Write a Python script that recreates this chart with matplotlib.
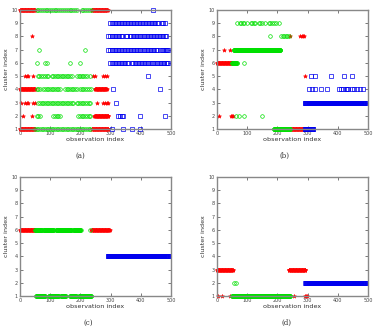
import matplotlib
matplotlib.use("Agg")
import matplotlib.pyplot as plt
import numpy as np

# cluster index -> observation indices; (start, stop) tuples are consecutive runs
a_red = {10: [(0, 50), (237, 290)], 8: [39],
         5: [17, 22, 28, 44, 243, 248, 276, 281, 287],
         4: [(0, 50), (248, 287)],
         3: [2, 17, 22, 28, 44, 50, 254, 276, 281, 287, 292],
         2: [11, 39, (246, 292)],
         1: [(0, 50), (237, 292)]}
a_green = {10: [55, 60, 65, 72, 78, 85, 90, 97, 103, 108, 115, 120, 127, 133, 140, 147,
                152, 158, 165, 170, 176, 182, 188, 204, 210, 216, 222, 228, 235],
           7: [63, 215],
           6: [55, 83, 89, 166, 199],
           5: [58, 64, 70, 77, 82, 88, 94, 105, 110, 116, 121, 127, 132, 138, 143, 149,
               154, 160, 166, 171, 188, 194, 199, 205, 210, 216, 221, 232],
           4: [55, 60, 66, 77, 83, 88, 94, 99, 105, 110, 116, 121, 127, 132, 149, 155,
               160, 166, 171, 177, 182, 188, 199, 205, 210, 216, 221, 230, 235],
           3: [61, 66, 72, 77, 83, 88, 94, 99, 105, 110, 116, 121, 127, 132, 138, 143,
               149, 155, 160, 166, 171, 177, 188, 193, 199, 205, 210, 216, 221, 227, 232],
           2: [55, 60, 66, 110, 116, 121, 127, 132, 193, 199, 205, 210, 216, 221, 227, 232],
           1: [50, 55, 61, 66, 72, 77, 83, 88, 94, 99, 105, 110, 116, 121, 127, 132, 138,
               143, 149, 155, 160, 166, 171, 177, 182, 188, 193, 199, 204, 210, 216, 221,
               227, 232]}
a_blue = {10: [441],
          9: [298, 303, 308, 313, 318, 323, 328, 333, 338, 343, 348, 353, 358, 363, 368,
              373, 378, 383, 388, 393, 398, 403, 408, 413, 418, 423, 428, 433, 438, 443,
              448, 453, 458, 469, 475, 480],
          8: [293, 298, 303, 308, 313, 318, 323, 328, 333, 337, 350, 355, 364, 369, 374,
              379, 384, 389, 394, 399, 404, 409, 414, 420, 425, 430, 435, 440, 445, 450,
              455, 460, 464, 469, 474, 480, 485],
          7: [293, 298, 303, 308, 313, 318, 323, 328, 333, 338, 343, 348, 353, 359, 364,
              369, 374, 379, 384, 389, 394, 399, 404, 409, 414, 420, 425, 430, 435, 440,
              445, 450, 453, 464, 469, 474, 479, 484, 488, 491],
          6: [298, 303, 308, 313, 318, 323, 328, 333, 338, 343, 348, 353, 359, 370, 375,
              380, 385, 390, 395, 400, 405, 410, 415, 420, 425, 430, 436, 442, 447, 452,
              457, 462, 467, 472, 477, 482, 487, 491],
          5: [425], 4: [309, 462], 3: [317],
          2: [326, 331, 337, 342, 397, 480],
          1: [303, 340, 372, 397]}

b_red = {6: [(0, 50)], 7: [24, 42], 2: [8, 47, 50, 53],
         8: [243, 276, 280, 285, 289], 5: [292], 1: [(243, 292)]}
b_green = {6: [(50, 66), 91], 7: [(55, 210)],
           9: [66, 77, 81, 85, 90, 99, 111, 116, 122, 127, 138, 143, 149, 160, 171,
               176, 182, 188, 196, 204],
           8: [174, 213, 218, 223, 228, 233, 238],
           2: [63, 72, 91, 149], 1: [(188, 243)]}
b_blue = {5: [310, 326, 376, 420, 446],
          4: [305, 314, 326, 343, 363, 405, 410, 416, 427, 431, 435, 446, 455, 465, 475, 484],
          3: [(292, 490)], 1: [(292, 318)]}

c_red = {6: [(0, 50), (236, 297)]}
c_green = {6: [(50, 72), (78, 111), (120, 170), (177, 201), 233],
           1: [(53, 83), (95, 128), (136, 151), (166, 186), (196, 236)]}
c_blue = {4: [(292, 491)]}

d_red = {3: [(0, 53), (237, 293)], 1: [2, 17, 44, 256, 293, 296, 298]}
d_green = {2: [57, 63], 1: [(50, 243)]}
d_blue = {2: [(293, 491)]}

captions = ["(a)", "(b)", "(c)", "(d)"]


def expand(rows):
    xs, ys = [], []
    for cl, items in rows.items():
        for it in items:
            if isinstance(it, tuple):
                pts = list(range(it[0], it[1] + 1))
            else:
                pts = [it]
            xs += pts
            ys += [cl] * len(pts)
    return np.array(xs), np.array(ys)


fig = plt.figure(figsize=(3.74, 3.30), dpi=100)
W, H = 374, 330
# axes boxes in pixels: left, top, right, bottom
boxes = [(20, 10, 171, 129), (217, 10, 368, 129),
         (20, 177, 171, 296), (217, 177, 368, 296)]
cap_pos = [(80, 156), (285, 156), (88, 323), (287, 323)]
panels = [(a_red, a_green, a_blue), (b_red, b_green, b_blue),
          (c_red, c_green, c_blue), (d_red, d_green, d_blue)]

for (l, t, r, b), (red, green, blue), cap, (cx, cy) in zip(boxes, panels, captions, cap_pos):
    ax = fig.add_axes([l / W, 1 - b / H, (r - l) / W, (b - t) / H])
    x, y = expand(red)
    ax.plot(x, y, '*', color='#ff0000', ms=3, mew=0.4, ls='none', clip_on=False)
    x, y = expand(green)
    ax.plot(x, y, 'o', mfc='none', mec='#00e000', ms=2.6, mew=0.5, ls='none', clip_on=False)
    x, y = expand(blue)
    ax.plot(x, y, 's', mfc='none', mec='#0000ee', ms=2.3, mew=0.5, ls='none', clip_on=False)
    ax.set_xlim(0, 500)
    ax.set_ylim(1, 10)
    ax.set_xticks(range(0, 501, 100))
    ax.set_yticks(range(1, 11))
    ax.tick_params(direction='in', length=2, width=0.5, labelsize=3.5, pad=1.5,
                   colors='#444444', top=True, right=True)
    for s in ax.spines.values():
        s.set_color('#888888')
        s.set_linewidth(1.0)
    ax.set_xlabel('observation index', fontsize=4.6, labelpad=1, color='#333333')
    ax.set_ylabel('cluster index', fontsize=4.6, labelpad=2, color='#333333')
    fig.text(cx / W, 1 - cy / H, cap, fontsize=5, family='DejaVu Serif',
             ha='center', va='center', color='#333333')

fig.savefig('out.png', dpi=100)
